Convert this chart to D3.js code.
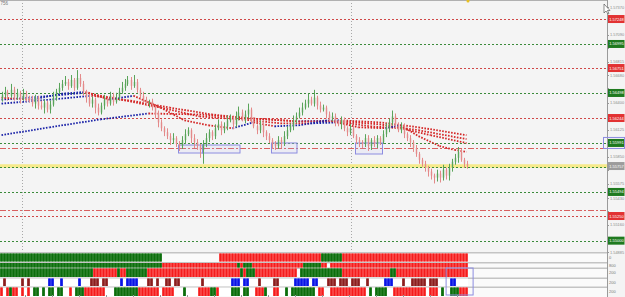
<!DOCTYPE html>
<html><head><meta charset="utf-8">
<script src="https://cdn.jsdelivr.net/npm/d3@7"></script>
<style>html,body{margin:0;padding:0;background:#f4f4f4;overflow:hidden}svg{display:block}</style>
</head><body><svg id="c" width="625" height="297"></svg>
<script>
// ---------- DATA ----------
const firstOpen = 1.5645;
const closes = [
1.5648,1.5651,1.5647,1.5653,1.5646,1.5650,1.5644,1.5649,1.5645,1.5643,
1.5639,1.5645,1.5637,1.5635,1.5640,1.5633,1.5638,1.5645,1.5651,1.5655,
1.5659,1.5661,1.5657,1.5663,1.5655,1.5665,1.5659,1.5651,1.5645,1.5639,
1.5643,1.5635,1.5630,1.5637,1.5643,1.5639,1.5647,1.5641,1.5645,1.5651,
1.5655,1.5659,1.5663,1.5657,1.5661,1.5653,1.5647,1.5643,1.5639,1.5641,
1.5635,1.5628,1.5620,1.5614,1.5610,1.5606,1.5602,1.5604,1.5598,1.5596,
1.5602,1.5608,1.5612,1.5604,1.5600,1.5596,1.5592,1.5598,1.5604,1.5610,
1.5606,1.5614,1.5618,1.5612,1.5616,1.5622,1.5624,1.5618,1.5626,1.5630,
1.5624,1.5628,1.5633,1.5622,1.5616,1.5612,1.5618,1.5610,1.5606,1.5602,
1.5598,1.5596,1.5602,1.5600,1.5606,1.5612,1.5616,1.5622,1.5626,1.5630,
1.5635,1.5639,1.5643,1.5639,1.5645,1.5637,1.5633,1.5635,1.5628,1.5624,
1.5626,1.5620,1.5618,1.5622,1.5614,1.5610,1.5614,1.5606,1.5602,1.5600,
1.5598,1.5604,1.5596,1.5602,1.5598,1.5604,1.5600,1.5608,1.5614,1.5620,
1.5626,1.5618,1.5612,1.5616,1.5608,1.5604,1.5600,1.5594,1.5588,1.5582,
1.5578,1.5574,1.5570,1.5566,1.5564,1.5568,1.5564,1.5572,1.5566,1.5574,
1.5580,1.5584,1.5590,1.5582,1.5578,1.5576];
// wicks in pips (0.0001)
const upWick = [
3,5,2,6,3,4,2,5,3,2, 4,3,2,5,3,2,4,6,3,5, 4,6,3,5,2,8,4,3,2,4, 3,2,4,3,5,2,4,3,5,4,
6,5,4,3,7,3,2,4,3,2, 3,2,4,3,2,4,3,5,2,3, 4,5,3,2,4,3,2,4,5,3, 2,4,5,3,4,5,4,2,5,6,
3,4,6,2,3,2,4,3,2,3, 2,3,4,3,5,4,3,5,4,5, 5,4,6,3,8,2,4,3,2,3, 4,3,2,4,3,2,4,3,2,3,
2,4,3,2,4,3,2,4,5,4, 6,3,2,4,3,2,3,2,3,2, 2,3,2,3,2,4,3,5,2,4, 3,4,5,3,2,3];
const downWick = [
4,3,5,2,4,3,5,2,4,3, 3,5,4,2,6,3,4,2,3,2, 3,2,4,2,3,2,3,4,5,3, 4,6,3,2,4,3,2,4,2,3,
2,3,2,4,2,3,4,3,2,4, 3,4,5,3,4,3,5,4,3,5, 3,4,2,5,6,4,8,14,3,4, 4,3,2,5,3,4,2,5,3,4,
3,5,4,3,2,4,3,5,4,3, 5,4,3,6,4,3,2,4,3,2, 3,2,4,2,3,4,3,2,4,3, 3,4,2,5,3,4,3,2,4,5,
4,3,5,4,3,4,3,2,3,4, 3,4,2,3,4,3,5,4,3,4, 3,4,5,4,6,4,5,3,4,5, 4,3,5,2,4,3];

// moving averages: [bar, price]
const maFast = [[0,1.5645],[10,1.5643],[20,1.5649],[28,1.5651],[36,1.5643],[44,1.5647],[53,1.5635],[61,1.5622],[69,1.5617],[77,1.5614],[84,1.5620],[91,1.5616],[99,1.5617],[109,1.5622],[119,1.5615],[128,1.5614],[133,1.5617],[139,1.5606],[146,1.5596],[151,1.5592],[155,1.5590]];
const maMid1 = [[0,1.5643],[13,1.5646],[28,1.5650],[40,1.5643],[53,1.5635],[66,1.5626],[80,1.5623],[93,1.5619],[103,1.5619],[113,1.5620],[123,1.5616],[133,1.5614],[143,1.5607],[155,1.5599]];
const maMid2 = [[0,1.5639],[16,1.5643],[30,1.5647],[43,1.5642],[56,1.5635],[70,1.5628],[83,1.5624],[99,1.5621],[113,1.5621],[126,1.5618],[139,1.5612],[155,1.5603]];
const maSlow = [[0,1.5607],[16,1.5615],[33,1.5623],[49,1.5629],[66,1.5628],[83,1.5624],[99,1.5621],[113,1.5622],[126,1.5620],[139,1.5615],[155,1.5607]];

const priceTicks = [1.57370,1.57235,1.57090,1.56955,1.56815,1.56680,1.56545,1.56400,1.56265,1.56125,1.55990,1.55850,1.55715,1.55575,1.55430,1.55300,1.55160,1.55025,1.54885];
const resistanceLevels = [1.57248,1.56751,1.56244,1.55250];
const supportLevels = [1.56995,1.56498,1.55991,1.55747,1.55494,1.55000];
const pivotLevels = [1.55940,1.55311];
const currentPrice = 1.55757;
// zones: [startBar, endBar, top, bottom]
const zones = [[59.5,67.5,1.55970,1.55889],[67.5,80,1.55970,1.55889],[90.5,99,1.55991,1.55889],[118.5,127.5,1.55991,1.55879]];
const timeGridBars = [7.33,116.9];
const timeTickBars = [8.3,17.3,26.3,35.3,44.3,53.3,62.3,71.3,80.3,89.3,98.3,107.3,116.3,125.3,134.3,143.3,152.3];

// indicator rows: [startBar, endBar, code]
const row1 = [[0,54,'G'],[73,107,'R'],[107,114,'G'],[114,156,'R']];
const row2 = [[0,54,'G'],[54,79,'R'],[79,80,'G'],[80,81,'R'],[81,84,'G'],[84,101,'R'],[101,107,'G'],[107,109,'R'],[110,156,'R']];
const row3 = [[0,31,'G'],[31,39,'R'],[39,40,'G'],[40,42,'R'],[42,49,'G'],[49,80,'R'],[80,81,'G'],[81,82,'R'],[82,85,'G'],[85,99,'R'],[100,114,'G'],[114,130,'R'],[130,132,'G'],[132,156,'R']];
const row4 = [[1,2,'M'],[7,8,'M'],[9,10,'M'],[16,18,'B'],[20,21,'B'],[26,27,'B'],[30,33,'M'],[34,36,'M'],[40,41,'B'],[42,46,'B'],[49,51,'M'],[52,53,'M'],[55,57,'M'],[58,60,'M'],[67,68,'M'],[77,80,'B'],[81,83,'B'],[86,87,'M'],[91,93,'M'],[98,103,'B'],[104,106,'B'],[109,112,'M'],[113,116,'M'],[117,120,'M'],[122,123,'M'],[128,131,'B'],[134,135,'M'],[137,142,'M'],[143,146,'M'],[150,152,'B']];
const row5 = [[0,1,'R'],[2,3,'R'],[3,4,'G'],[4,6,'R'],[7,8,'R'],[9,10,'R'],[11,13,'G'],[14,15,'G'],[16,18,'G'],[19,21,'G'],[23,24,'R'],[25,28,'G'],[28,35,'R'],[38,46,'G'],[46,53,'R'],[54,58,'R'],[61,62,'G'],[66,70,'R'],[70,72,'G'],[72,73,'R'],[77,80,'G'],[81,83,'G'],[85,88,'R'],[88,89,'G'],[91,93,'R'],[95,96,'G'],[97,105,'G'],[106,108,'R'],[110,113,'R'],[113,117,'R'],[117,122,'R'],[123,124,'G'],[125,129,'G'],[131,142,'R'],[143,146,'R'],[147,148,'G'],[150,153,'G'],[153,156,'R']];
const rowLabels = ['0','800','200','200','200'];

// ---------- DRAW ----------
const svg = d3.select('#c');
const axisX = 607;
const y = d3.scaleLinear().domain([1.57370,1.54885]).range([7,252]);
const x = d3.scaleLinear().domain([0,156]).range([0,468]);
const font = 'Liberation Sans, Arial, sans-serif';

svg.append('rect').attr('width',625).attr('height',297).attr('fill','#f4f4f4');

// vertical grid
svg.selectAll('.vg').data(timeGridBars).enter().append('line')
  .attr('x1',d=>Math.round(x(d))+0.5).attr('x2',d=>Math.round(x(d))+0.5)
  .attr('y1',0).attr('y2',297).attr('stroke','#a8a8a8').attr('stroke-dasharray','1,2');

// current price highlight
svg.append('line').attr('x1',0).attr('x2',axisX).attr('y1',y(currentPrice)).attr('y2',y(currentPrice))
  .attr('stroke','#f6ea8a').attr('stroke-width',3.5);

// levels
function hline(p,color,dash,w){
  svg.append('line').attr('x1',0).attr('x2',axisX)
    .attr('y1',Math.round(y(p))+0.5).attr('y2',Math.round(y(p))+0.5)
    .attr('stroke',color).attr('stroke-width',w||1).attr('stroke-dasharray',dash);
}
resistanceLevels.forEach(p=>hline(p,'#d04848','2,2'));
supportLevels.forEach(p=>hline(p,'#3a8a3a','2,2'));
pivotLevels.forEach(p=>hline(p,'#d86060','6,2,2,2'));

// zones
svg.selectAll('.zone').data(zones).enter().append('rect')
  .attr('x',d=>x(d[0])).attr('width',d=>x(d[1])-x(d[0]))
  .attr('y',d=>y(d[2])).attr('height',d=>y(d[3])-y(d[2]))
  .attr('fill','rgba(190,190,250,0.15)').attr('stroke','#8c8ce0').attr('stroke-width',1);

// MA lines (dotted, coloured by slope)
[maSlow,maMid2,maMid1,maFast].forEach(ma=>{
  for(let k=1;k<ma.length;k++){
    const a=ma[k-1], b=ma[k];
    svg.append('line').attr('x1',x(a[0]+0.5)).attr('y1',y(a[1]))
      .attr('x2',x(b[0]+0.5)).attr('y2',y(b[1]))
      .attr('stroke', b[1]>a[1] ? '#1c24a8' : '#d42828')
      .attr('stroke-width',1.8).attr('stroke-dasharray','1.6,1.4');
  }
});

// candles
const bars = closes.map((c,i)=>{
  const o = i===0 ? firstOpen : closes[i-1];
  return {i, o, c, h: Math.max(o,c)+(upWick[i]??2)*0.0001, l: Math.min(o,c)-(downWick[i]??2)*0.0001};
});
const cg = svg.append('g');
bars.forEach(b=>{
  const up = b.c>=b.o;
  const col = up ? '#5aa45a' : '#e48a8a';
  const cx = Math.round(x(b.i+0.5))+0.5;
  cg.append('line').attr('x1',cx).attr('x2',cx).attr('y1',y(b.h)).attr('y2',y(b.l))
    .attr('stroke',col).attr('stroke-width',1);
  cg.append('rect').attr('x',cx-1).attr('width',2)
    .attr('y',y(Math.max(b.o,b.c))).attr('height',Math.max(1,Math.abs(y(b.o)-y(b.c))))
    .attr('fill',col).attr('opacity',0.4);
});

// indicator panel
const rowsY = [[253.5,261.5],[263,267.5],[268.5,277],[278.5,286],[287.5,296]];
const seps = [252,262,267.5,277.5,286.5];
svg.append('rect').attr('x',0).attr('y',252).attr('width',axisX).attr('height',45).attr('fill','#fafafa');
seps.forEach(s=>svg.append('rect').attr('x',0).attr('y',s).attr('width',axisX).attr('height',1.5).attr('fill','#c4c4c4'));
svg.append('rect').attr('x',0).attr('y',rowsY[3][0]).attr('width',x(156)).attr('height',rowsY[3][1]-rowsY[3][0]).attr('fill','#ffffff');
svg.append('rect').attr('x',0).attr('y',rowsY[4][0]).attr('width',x(156)).attr('height',rowsY[4][1]-rowsY[4][0]).attr('fill','#ffffff');
const colors = {G:'#0c6e0c',R:'#f41c1c',M:'#8a1e1e',B:'#0a14e6'};
const light = {G:'#3f8f3f',R:'#ff6a6a',M:'#b25a5a',B:'#4a55f0'};
[row1,row2,row3,row4,row5].forEach((row,ri)=>{
  const [y0,y1]=rowsY[ri];
  row.forEach(seg=>{
    svg.append('rect').attr('x',x(seg[0])).attr('width',x(seg[1])-x(seg[0]))
      .attr('y',y0).attr('height',y1-y0).attr('fill',light[seg[2]]);
    for(let i=seg[0];i<seg[1];i++){
      svg.append('rect').attr('x',x(i)+0.5).attr('width',2).attr('y',y0).attr('height',y1-y0).attr('fill',colors[seg[2]]);
    }
  });
  svg.append('text').attr('x',609).attr('y',(y0+y1)/2+1.5).attr('font-size',4).attr('font-family',font)
    .attr('fill','#777').text(rowLabels[ri]);
});
// time ticks
svg.selectAll('.tt').data(timeTickBars).enter().append('line')
  .attr('x1',d=>Math.round(x(d))+0.5).attr('x2',d=>Math.round(x(d))+0.5)
  .attr('y1',295).attr('y2',297).attr('stroke','#999');

// axis
svg.append('line').attr('x1',axisX+0.5).attr('x2',axisX+0.5).attr('y1',0).attr('y2',297).attr('stroke','#9a9a9a');
svg.append('line').attr('x1',0).attr('x2',axisX).attr('y1',0.5).attr('y2',0.5).attr('stroke','#b0b0b0');
const tagPrices = resistanceLevels.concat(supportLevels.filter(p=>p!==1.55747),[currentPrice]);
priceTicks.forEach(p=>{
  svg.append('line').attr('x1',axisX).attr('x2',axisX+2).attr('y1',Math.round(y(p))+0.5).attr('y2',Math.round(y(p))+0.5).attr('stroke','#999');
  if(tagPrices.some(t=>Math.abs(y(t)-y(p))<6)) return;
  svg.append('text').attr('x',610).attr('y',y(p)+1.5).attr('font-size',3.9).attr('font-family',font)
    .attr('fill','#8a8a8a').text(p.toFixed(5));
});
function tag(p,fill){
  svg.append('rect').attr('x',608).attr('y',y(p)-4).attr('width',16.5).attr('height',8).attr('fill',fill);
  svg.append('text').attr('x',609.2).attr('y',y(p)+1.5).attr('font-size',4).attr('font-family',font)
    .attr('fill','#fff').text(p.toFixed(5));
}
resistanceLevels.forEach(p=>tag(p,'#e23232'));
supportLevels.filter(p=>p!==1.55747).forEach(p=>tag(p,'#1f7a1f'));
tag(currentPrice,'#9c9c9c');
// highlighted label box
svg.append('rect').attr('x',603.5).attr('y',y(1.55991)-5.5).attr('width',21).attr('height',11)
  .attr('fill','none').attr('stroke','#8c8ce0');
svg.append('rect').attr('x',x(148.7)).attr('y',268).attr('width',x(157.7)-x(148.7)).attr('height',27)
  .attr('fill','none').attr('stroke','#8c8ce0');

// small extras
svg.append('text').attr('x',0.5).attr('y',5).attr('font-size',4.5).attr('font-family',font).attr('fill','#777').text('756');
svg.append('circle').attr('cx',468).attr('cy',1).attr('r',1.5).attr('fill','#e8c020');
svg.append('path').attr('d','M604,4 L604,13 L606,11 L608,14 L609,13.5 L607.5,10.5 L610,10.5 Z')
  .attr('fill','#fff').attr('stroke','#444').attr('stroke-width',0.6);
</script></body></html>
